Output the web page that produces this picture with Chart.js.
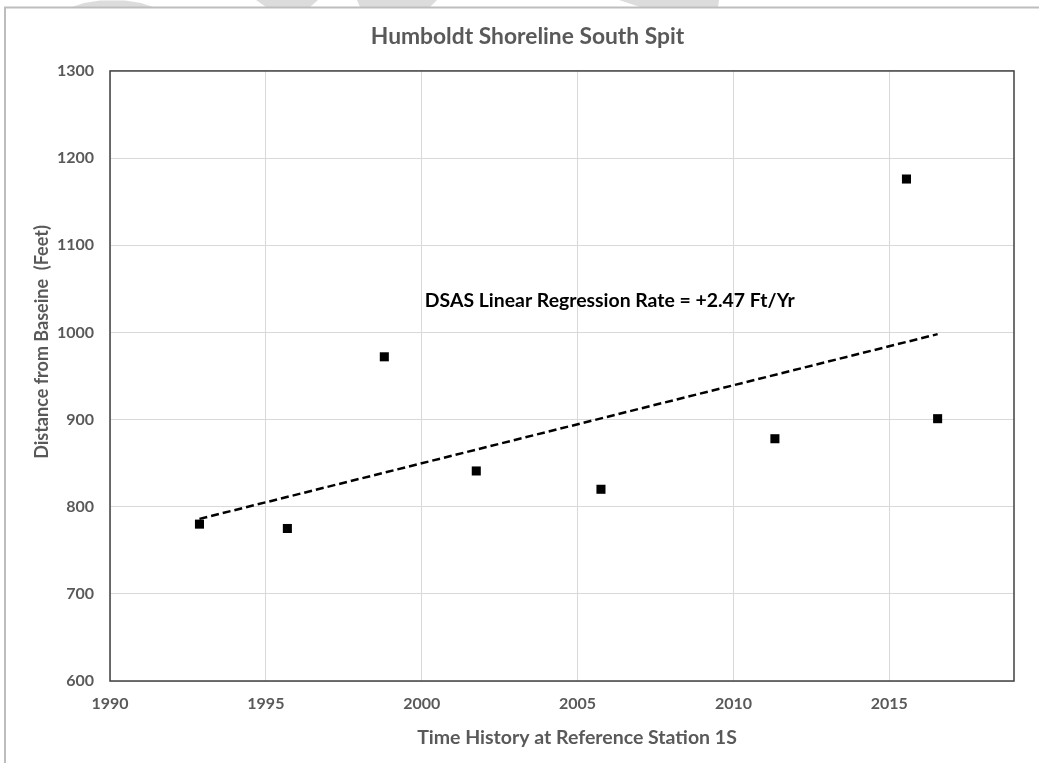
<!DOCTYPE html>
<html>
<head>
<meta charset="utf-8">
<title>Humboldt Shoreline South Spit</title>
<script src="https://cdn.jsdelivr.net/npm/chart.js@4/dist/chart.umd.min.js"></script>
<style>
  html, body { margin: 0; padding: 0; background: #ffffff; }
  #wrap { width: 1039px; height: 763px; position: relative; }
</style>
</head>
<body>
<div id="wrap"><canvas id="chart" width="1039" height="763"></canvas></div>
<script>
// Survey years (decimal) and measured shoreline distance from the baseline, in feet
const surveyYears = [1992.87, 1995.69, 1998.8, 2001.75, 2005.75, 2011.33, 2015.55, 2016.55];
const distanceFeet = [780, 775, 972, 841, 820, 878, 1176, 901];

// End points of the regression trend line
const trendYears = [1992.87, 2016.55];
const trendFeet = [786, 998];

// Axis ranges and tick spacing
const yearRange = [1990, 2019];
const yearStep = 5;
const feetRange = [600, 1300];
const feetStep = 100;

const chartTitle = 'Humboldt Shoreline South Spit';
const xAxisTitle = 'Time History at Reference Station 1S';
const yAxisTitle = 'Distance from Baseine  (Feet)';
const rateNote = 'DSAS Linear Regression Rate = +2.47 Ft/Yr';
const rateNoteAt = { year: 2000.1, feet: 1036 };

const FONT = 'Lato, "Open Sans", "Noto Sans", sans-serif';
const GREY_TEXT = '#595959';

const toPoints = (xs, ys) => xs.map((x, i) => ({ x: x, y: ys[i] }));

// Page frame, faint marks above it, plot box, axis titles and the rate note
const decorations = {
  id: 'decorations',
  beforeDraw(chart) {
    const ctx = chart.ctx;
    ctx.save();
    ctx.fillStyle = '#ffffff';
    ctx.fillRect(0, 0, chart.width, chart.height);
    ctx.fillStyle = '#dcdcdc';
    const shapes = [
      [[72, 7], [84, 3], [100, 0.5], [125, 0.5], [141, 3], [153, 7]],
      [[256, 0], [318, 0], [310, 7], [266, 7]],
      [[357, 0], [437, 0], [430, 7], [360, 7]],
      [[619, 0], [719, 0], [718, 7], [640, 7]]
    ];
    shapes.forEach(s => {
      ctx.beginPath();
      ctx.moveTo(s[0][0], s[0][1]);
      for (let i = 1; i < s.length; i++) ctx.lineTo(s[i][0], s[i][1]);
      ctx.closePath();
      ctx.fill();
    });
    ctx.strokeStyle = '#bdbdbd';
    ctx.lineWidth = 2;
    ctx.beginPath();
    ctx.moveTo(5, chart.height);
    ctx.lineTo(5, 7.5);
    ctx.lineTo(chart.width, 7.5);
    ctx.stroke();
    ctx.restore();
  },
  beforeDatasetsDraw(chart) {
    const ctx = chart.ctx;
    const a = chart.chartArea;
    ctx.save();
    ctx.strokeStyle = '#404040';
    ctx.lineWidth = 1.5;
    ctx.strokeRect(a.left, a.top, a.right - a.left, a.bottom - a.top);
    ctx.restore();
  },
  afterDraw(chart) {
    const ctx = chart.ctx;
    const xs = chart.scales.x;
    const ys = chart.scales.y;
    ctx.save();
    ctx.fillStyle = GREY_TEXT;
    ctx.textAlign = 'center';
    ctx.textBaseline = 'middle';
    ctx.font = 'bold 19.5px ' + FONT;
    ctx.fillText(xAxisTitle, 577, 738);
    ctx.translate(42, 342);
    ctx.rotate(-Math.PI / 2);
    ctx.font = 'bold 18px ' + FONT;
    ctx.fillText(yAxisTitle, 0, 0);
    ctx.restore();

    ctx.save();
    ctx.fillStyle = '#000000';
    ctx.font = 'bold 19.4px ' + FONT;
    ctx.textAlign = 'left';
    ctx.textBaseline = 'middle';
    ctx.fillText(rateNote, xs.getPixelForValue(rateNoteAt.year), ys.getPixelForValue(rateNoteAt.feet));
    ctx.restore();
  }
};

new Chart(document.getElementById('chart'), {
  type: 'scatter',
  data: {
    datasets: [
      {
        label: 'Shoreline position',
        data: toPoints(surveyYears, distanceFeet),
        pointStyle: 'rect',
        pointRadius: 6.4,
        pointBorderWidth: 0,
        backgroundColor: '#000000',
        borderColor: '#000000',
        order: 1
      },
      {
        label: 'Linear trend',
        data: toPoints(trendYears, trendFeet),
        showLine: true,
        borderColor: '#000000',
        borderWidth: 2.5,
        borderDash: [8, 4],
        pointRadius: 0,
        fill: false,
        order: 2
      }
    ]
  },
  options: {
    responsive: false,
    animation: false,
    events: [],
    layout: { padding: { left: 41, right: 25, top: 0, bottom: 0 } },
    plugins: {
      legend: { display: false },
      tooltip: { enabled: false },
      title: {
        display: true,
        text: chartTitle,
        color: GREY_TEXT,
        font: { family: FONT, size: 22.8, weight: 'bold', lineHeight: 1.2 },
        padding: { top: 23.3, bottom: 20.3 }
      }
    },
    scales: {
      x: {
        type: 'linear',
        min: yearRange[0],
        max: yearRange[1],
        grid: { color: '#d9d9d9', lineWidth: 1, drawTicks: false },
        border: { display: false },
        ticks: {
          stepSize: yearStep,
          includeBounds: false,
          color: GREY_TEXT,
          padding: 13,
          font: { family: FONT, size: 16, weight: 'bold' },
          callback: v => String(v)
        },
        afterFit(scale) { scale.height = 82; }
      },
      y: {
        type: 'linear',
        min: feetRange[0],
        max: feetRange[1],
        grid: { color: '#d9d9d9', lineWidth: 1, drawTicks: false },
        border: { display: false },
        ticks: {
          stepSize: feetStep,
          color: GREY_TEXT,
          padding: 16,
          font: { family: FONT, size: 16, weight: 'bold' },
          callback: v => String(v)
        },
        afterFit(scale) { scale.width = 69; }
      }
    }
  },
  plugins: [decorations]
});
</script>
</body>
</html>
